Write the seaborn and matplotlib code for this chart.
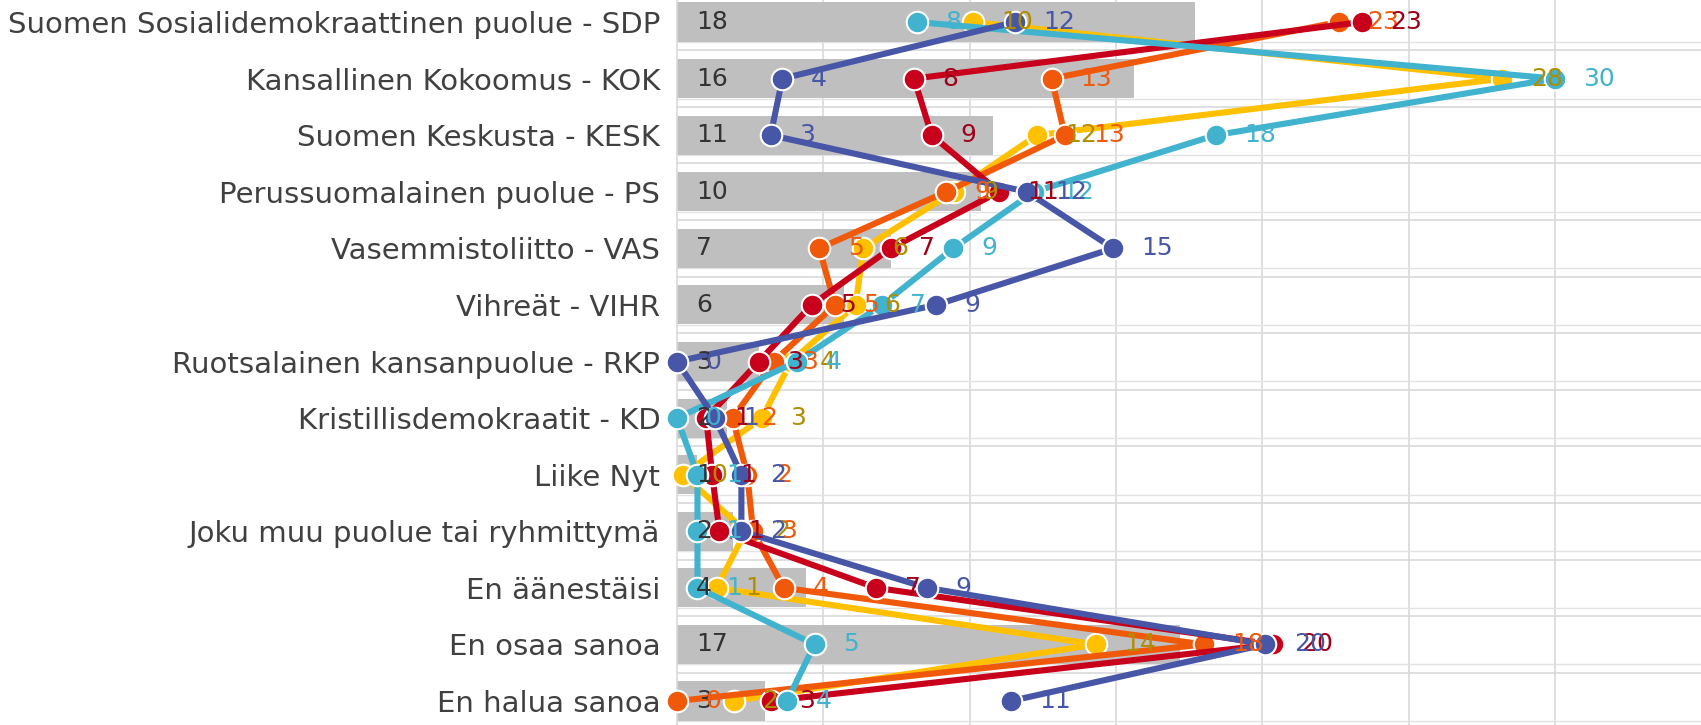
import numpy as np
import seaborn as sns
import matplotlib
matplotlib.use("Agg")
import matplotlib.pyplot as plt

categories = [
    "Suomen Sosialidemokraattinen puolue - SDP",
    "Kansallinen Kokoomus - KOK",
    "Suomen Keskusta - KESK",
    "Perussuomalainen puolue - PS",
    "Vasemmistoliitto - VAS",
    "Vihreät - VIHR",
    "Ruotsalainen kansanpuolue - RKP",
    "Kristillisdemokraatit - KD",
    "Liike Nyt",
    "Joku muu puolue tai ryhmittymä",
    "En äänestäisi",
    "En osaa sanoa",
    "En halua sanoa",
]
total = [17.7, 15.6, 10.8, 10.4, 7.3, 5.7, 2.8, 1.7, 0.7, 1.9, 4.4, 17.2, 3.0]

yellow = [10.1, 28.2, 12.3, 9.45, 6.37, 6.1, 3.9, 2.9, 0.2, 2.35, 1.35, 14.3, 1.95]
orange = [22.6, 12.8, 13.25, 9.2, 4.86, 5.4, 3.3, 1.9, 2.4, 2.6, 3.65, 18.0, 0.0]
red = [23.4, 8.1, 8.7, 11.0, 7.3, 4.6, 2.8, 1.0, 1.2, 1.45, 6.8, 20.35, 3.2]
cyan = [8.2, 30.0, 18.4, 12.2, 9.44, 7.0, 4.1, 0.0, 0.7, 0.7, 0.7, 4.7, 3.76]
blue = [11.55, 3.6, 3.2, 11.95, 14.9, 8.85, 0.0, 1.3, 2.2, 2.2, 8.54, 20.1, 11.4]

# (values, line colour, label colour) in drawing order
series = [
    (yellow, "#FFC000", "#B08D00"),
    (orange, "#F0580A", "#EE5A0E"),
    (red, "#C8001C", "#A00018"),
    (cyan, "#41B3CE", "#41B3CE"),
    (blue, "#4756A6", "#4756A6"),
]

fig = plt.figure(figsize=(17.01, 7.25), dpi=100)
ax = fig.add_axes([677 / 1701, 0, 1024 / 1701, 1])

sns.barplot(x=total, y=categories, orient="h", color="#BFBFBF", saturation=1,
            width=0.69, ax=ax, zorder=1)

ypos = np.arange(len(categories))
for vals, col, _ in series:
    sns.lineplot(x=vals, y=ypos, sort=False, estimator=None, color=col, lw=4.4,
                 marker="o", markersize=15.5, markeredgecolor="white",
                 markeredgewidth=1.5, clip_on=False, ax=ax, zorder=3)

for i, v in enumerate(total):
    ax.annotate(f"{v:.0f}", (0, i), xytext=(13.5, 0), textcoords="offset points",
                ha="left", va="center", fontsize=18, color="#333333", zorder=5)
for vals, _, lcol in series:
    for i, v in enumerate(vals):
        ax.annotate(f"{v:.0f}", (v, i), xytext=(20.5, 0), textcoords="offset points",
                    ha="left", va="center", fontsize=18, color=lcol, zorder=5,
                    annotation_clip=False)

ax.set_xlim(0, 1024 / 29.27)
ax.set_ylim(12.424, -0.389)
ax.set_yticks(ypos)
ax.set_yticklabels(categories)
ax.set_xlabel("")
ax.set_ylabel("")
ax.set_xticks([])
ax.tick_params(axis="y", length=0, pad=12, labelsize=21, labelcolor="#404040")

for gx in range(5, 35, 5):
    ax.axvline(gx, color="#D9D9D9", lw=1.2, zorder=0)
for k in range(-1, 13):
    ax.axhline(k + 0.5, color="#D9D9D9", lw=1.2, zorder=0)
    ax.axhline(k + 0.353, color="#E3E3E3", lw=1.0, zorder=0)

for s in ["top", "right", "bottom"]:
    ax.spines[s].set_visible(False)
ax.spines["left"].set_color("#D9D9D9")
ax.spines["left"].set_linewidth(1.2)

fig.savefig("out.png", dpi=100)
